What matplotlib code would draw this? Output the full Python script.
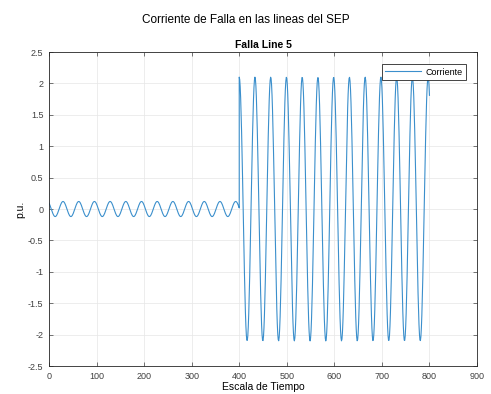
import numpy as np
import matplotlib.pyplot as plt

plt.rcParams['font.family'] = ['Liberation Sans', 'DejaVu Sans']

# readings from the picture (sinusoidal fault current, p.u.)
seg_start = [0, 400]          # start of each segment (time scale)
seg_end = [400, 800]          # end of each segment
seg_amp = [0.12, 2.1]         # peak amplitude of each segment
seg_period = [33.0, 33.1]     # period of each segment
seg_peak = [29.5, 400.0]      # time of one peak in each segment
x_ticks = [0, 100, 200, 300, 400, 500, 600, 700, 800, 900]
y_ticks = [-2.5, -2, -1.5, -1, -0.5, 0, 0.5, 1, 1.5, 2, 2.5]

t_all, y_all = [], []
for t0, t1, a, p, tp in zip(seg_start, seg_end, seg_amp, seg_period, seg_peak):
    t = np.arange(t0, t1 + 1)
    t_all.append(t)
    y_all.append(a * np.cos(2 * np.pi * (t - tp) / p))
t_all = np.concatenate(t_all)
y_all = np.concatenate(y_all)

fig = plt.figure(figsize=(4.91, 3.94), dpi=100)
ax = fig.add_axes([0.0998, 0.071, 0.8717, 0.797])

ax.plot(t_all, y_all, color='#3b8fcc', lw=0.8, label='Corriente')

ax.set_xlim(0, 900)
ax.set_ylim(-2.5, 2.5)
ax.set_xticks(x_ticks)
ax.set_yticks(y_ticks)
ax.set_yticklabels([f"{v:g}" for v in y_ticks])
ax.grid(True, color='#e6e6e6', lw=0.5)
ax.set_axisbelow(True)
ax.tick_params(direction='in', top=True, right=True, labelsize=6.5,
               colors='#404040', length=3, width=0.5, pad=4)
for s in ax.spines.values():
    s.set_color('#262626')
    s.set_linewidth(0.6)

ax.set_title('Falla Line 5', fontsize=7.5, fontweight='bold', pad=3)
ax.set_xlabel('Escala de Tiempo', fontsize=7.5, labelpad=1)
ax.set_ylabel('p.u.', fontsize=7.5, labelpad=2)
fig.suptitle('Corriente de Falla en las lineas del SEP', fontsize=8.5, y=0.965)

leg = ax.legend(loc='upper right', fontsize=6.5, fancybox=False, framealpha=1,
                edgecolor='#262626', handlelength=4.0, borderpad=0.35,
                handletextpad=0.5, bbox_to_anchor=(0.985, 0.975))
leg.get_frame().set_linewidth(0.6)

fig.savefig('out.png', dpi=100)
